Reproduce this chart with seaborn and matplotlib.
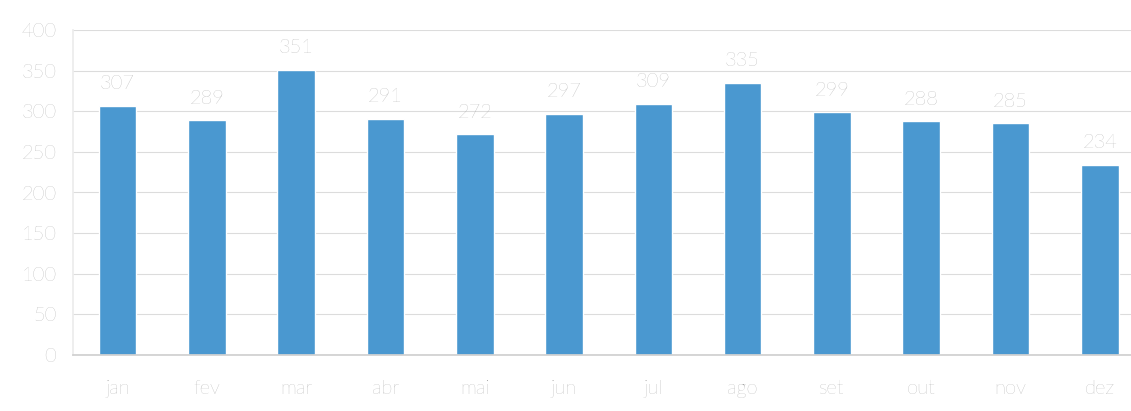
import matplotlib
matplotlib.use("Agg")
import matplotlib.pyplot as plt
import seaborn as sns
import pandas as pd

months = ["jan", "fev", "mar", "abr", "mai", "jun", "jul", "ago", "set", "out", "nov", "dez"]
values = [307, 289, 351, 291, 272, 297, 309, 335, 299, 288, 285, 234]
yticks = [0, 50, 100, 150, 200, 250, 300, 350, 400]

sns.set_theme(style="white")
plt.rcParams['font.family'] = ['Lato', 'DejaVu Sans']

df = pd.DataFrame({"mes": months, "valor": values})

fig = plt.figure(figsize=(11.31, 4.11), dpi=100)
ax = fig.add_axes([73/1131, 1 - 355/411, (1131 - 73)/1131, (355 - 30)/411])

sns.barplot(data=df, x="mes", y="valor", color="#4a98d0", saturation=1, width=0.42, ax=ax)

txt_col = "#9c9c9c"
fs = 14.5
ax.bar_label(ax.containers[0], labels=[str(v) for v in values], padding=9,
             color=txt_col, fontsize=fs, fontweight="light")

ax.set_ylim(0, 400)
ax.set_xlim(-0.5, 11.35)
ax.set_yticks(yticks)
ax.set_yticklabels([str(t) for t in yticks], color=txt_col, fontsize=fs, fontweight="light")
ax.set_xticks(range(len(months)))
ax.set_xticklabels(months, color=txt_col, fontsize=fs, fontweight="light")
ax.tick_params(axis="x", pad=18, length=0)
ax.tick_params(axis="y", pad=12, length=0)
ax.set_xlabel("")
ax.set_ylabel("")
ax.yaxis.grid(True, color="#dcdcdc", linewidth=0.8)
ax.set_axisbelow(True)
for s in ["top", "right"]:
    ax.spines[s].set_visible(False)
ax.spines["left"].set_color("#ececec")
ax.spines["bottom"].set_color("#d0d0d0")

fig.savefig("out.png", dpi=100)
